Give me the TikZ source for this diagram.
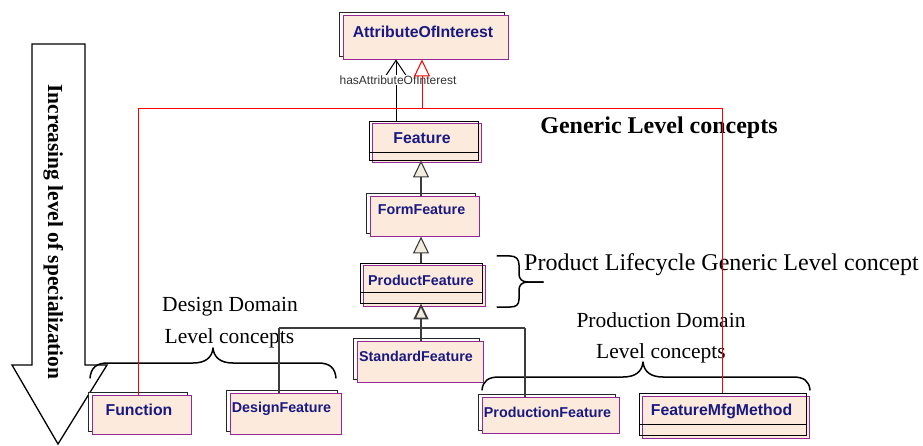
\documentclass[tikz,border=0pt]{standalone}
\usepackage{fontspec}
\setmainfont{Liberation Serif}
\newfontfamily\arialf{Liberation Sans}
\usetikzlibrary{arrows.meta,shadows}
\definecolor{pinkfill}{RGB}{252,234,220}
\definecolor{clsborder}{RGB}{150,40,150}
\definecolor{clstext}{RGB}{25,25,130}
\definecolor{connc}{RGB}{60,60,60}
\definecolor{trifill}{RGB}{242,236,222}
\begin{document}
\begin{tikzpicture}[x=1pt,y=-1pt,
  clsA/.style={draw=black, line width=0.9pt, inner sep=0pt,
     copy shadow={shadow xshift=3.5pt, shadow yshift=-3pt, fill=pinkfill, draw=clsborder, line width=1pt}},
  clsB/.style={draw=clsborder, line width=0.9pt, fill=pinkfill, inner sep=0pt,
     copy shadow={shadow xshift=-3.5pt, shadow yshift=3pt, fill=white, draw=black!85, line width=0.9pt}},
  ctext/.style={font=\arialf\bfseries\fontsize{14.3}{16}\selectfont, text=clstext, inner sep=0pt, text height=10.2pt, text depth=0pt},
  ctextL/.style={ctext, font=\arialf\bfseries\fontsize{15.8}{18}\selectfont, text height=11.3pt},
  septext/.style={font=\fontsize{21.5}{24}\selectfont, inner sep=0pt, text height=14.2pt, text depth=0pt},
  bigtext/.style={font=\fontsize{24}{28}\selectfont, inner sep=0pt, text height=15.9pt, text depth=0pt},
  lbl/.style={font=\arialf\fontsize{12}{14}\selectfont, text=black!80, fill=white, inner sep=0.8pt},
  conn/.style={draw=connc, line width=1.1pt},
  gen/.style={conn, -{Triangle[length=17pt,width=16pt,fill=trifill]}},
  genbold/.style={conn, -{Triangle[length=16pt,width=15pt,fill=trifill,line width=1.8pt]}},
  redline/.style={draw=red, line width=1pt},
  redgen/.style={redline, -{Triangle[length=17pt,width=16pt,fill=white]}},
  assoc/.style={draw=black, line width=1pt, -{Straight Barb[length=15pt,width=20pt]}},
  bracel/.style={draw=black, line width=1.5pt, line cap=round, line join=round},
]
\useasboundingbox (0,0) rectangle (923,446);

% big specialization arrow
\draw[line width=1.3pt, line join=miter, fill=white] (32,44) -- (85,44) -- (85,365) -- (107,365) -- (58,444) -- (12,365) -- (32,365) -- cycle;
\node[rotate=-90, font=\bfseries\fontsize{21.4}{24}\selectfont, inner sep=0pt, text height=14pt, text depth=0pt] (spec) at (55,232) {Increasing level of specialization};

% free texts
\node[bigtext, font=\bfseries\fontsize{24}{28}\selectfont] (generic) at (659,126) {Generic Level concepts};
\node[bigtext, anchor=west] (plc) at (524,262.5) {Product Lifecycle Generic Level concept};
\node[septext] (dd1) at (230,304.5) {Design Domain};
\node[septext] (dd2) at (229.5,336) {Level concepts};
\node[septext] (pd1) at (661,320) {Production Domain};
\node[septext] (pd2) at (661,351.5) {Level concepts};

% classes
\node[clsB, minimum width=165pt, minimum height=44pt] (attr) at (425.5,37) {};
\node[clsA, minimum width=109pt, minimum height=39pt] (feat) at (423.5,140.5) {};
\node[clsB, minimum width=109pt, minimum height=40pt] (form) at (424.5,216) {};
\node[clsA, minimum width=122pt, minimum height=40pt] (prod) at (421,283) {};
\node[clsB, minimum width=126pt, minimum height=41pt] (std) at (420,361.5) {};
\node[clsB, minimum width=99pt, minimum height=39pt] (func) at (141.5,414.5) {};
\node[clsB, minimum width=111pt, minimum height=41pt] (design) at (285.5,413.5) {};
\node[clsB, minimum width=137pt, minimum height=36pt] (production) at (550.5,415) {};
\node[clsA, minimum width=167pt, minimum height=42pt] (mfg) at (722.5,414) {};

\draw[line width=0.9pt] ([yshift=8pt]feat.south west) -- ([yshift=8pt]feat.south east);
\draw[line width=0.9pt] ([yshift=11pt]prod.south west) -- ([yshift=11pt]prod.south east);
\draw[line width=0.9pt] ([yshift=11pt]mfg.south west) -- ([yshift=11pt]mfg.south east);

\node[ctextL] (attr-t) at (423,32) {AttributeOfInterest};
\node[ctextL] (feat-t) at (422,138) {Feature};
\node[ctext] (form-t) at (421.5,209) {FormFeature};
\node[ctext] (prod-t) at (421,280) {ProductFeature};
\node[ctext] (std-t) at (416,356) {StandardFeature};
\node[ctextL] (func-t) at (139,410) {Function};
\node[ctext] (design-t) at (281.5,407) {DesignFeature};
\node[ctext] (production-t) at (547.5,412) {ProductionFeature};
\node[ctextL] (mfg-t) at (721.5,410) {FeatureMfgMethod};

% braces
\draw[bracel] (90,378) .. controls (91,368) and (96,363) .. (108,363) -- (193,363) .. controls (205,363) and (212,358) .. (213,348) .. controls (214,358) and (221,363) .. (233,363) -- (318,363) .. controls (330,363) and (335,368) .. (336,378);
\draw[bracel] (482,390) .. controls (483,381) and (488,377) .. (499,377) -- (623,377) .. controls (635,377) and (642,372) .. (643,362) .. controls (644,372) and (651,377) .. (663,377) -- (793,377) .. controls (804,377) and (809,381) .. (810,390);
\draw[bracel] (497,256) -- (510,256) .. controls (516,256) and (519,259) .. (519,265) -- (519,274) .. controls (519,279) and (522,282) .. (528,282) -- (543,282);
\draw[bracel] (543,282) -- (528,282) .. controls (522,282) and (519,285) .. (519,290) -- (519,299) .. controls (519,305) and (516,307) .. (510,307) -- (497,307);

% connectors
\coordinate (rl) at (138,109);
\coordinate (rr) at (722,109);
\coordinate (rm) at (422,109);
\coordinate (jl) at (279,328);
\coordinate (jm) at (421,328);
\coordinate (jr) at (525,328);

\draw[assoc] ([xshift=-27.5pt]feat.north) -- node[lbl, pos=0.66, xshift=2pt] (hasattr) {hasAttributeOfInterest} ([xshift=-27.5pt]feat.north |- attr.south);

\draw[gen] (form.north -| jm) -- (feat.south -| jm);
\draw[gen] (prod.north -| jm) -- (form.south -| jm);
\draw[conn] (jl) -- (jr);
\draw[conn] (jl) -- (design.north -| jl);
\draw[conn] (jr) -- (production.north -| jr);
\draw[conn] (std.north -| jm) -- (jm);
\draw[genbold] (jm) -- (prod.south -| jm);

\draw[redline] (func.north -| rl) -- (rl) -- (rr) -- (mfg.north -| rr);
\draw[redgen] (rm) -- (rm |- attr.south);
\end{tikzpicture}
\end{document}
